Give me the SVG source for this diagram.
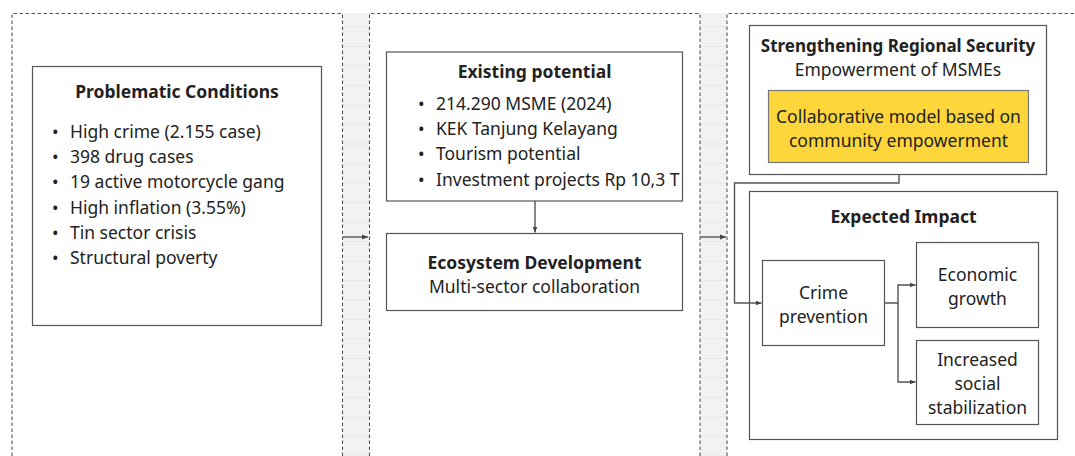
<svg xmlns="http://www.w3.org/2000/svg" width="1075" height="456" viewBox="0 0 1075 456">
<defs>
<pattern id="grid" x="0" y="7" width="30" height="78" patternUnits="userSpaceOnUse">
<rect width="30" height="78" fill="#f2f2f2"/>
<line x1="0" y1="0.5" x2="30" y2="0.5" stroke="#e8e8e8"/>
<line x1="0" y1="20" x2="30" y2="20" stroke="#e8e8e8"/>
<line x1="0" y1="39.5" x2="30" y2="39.5" stroke="#e8e8e8"/>
<line x1="0" y1="59" x2="30" y2="59" stroke="#e8e8e8"/>
</pattern>
<marker id="ah" viewBox="0 0 6 6" refX="6" refY="3" markerWidth="6" markerHeight="6" markerUnits="userSpaceOnUse" orient="auto">
<path d="M0,0.5 L6,3 L0,5.5 Z" fill="#444"/>
</marker>
</defs>
<style>
.col{fill:none;stroke:#555;stroke-width:1.1;stroke-dasharray:3.5 2.5}
.box{fill:#fff;stroke:#555;stroke-width:1.2}
.yel{fill:#fcd63b;stroke:#777;stroke-width:1.2}
text{font-family:"Noto Sans","Open Sans","DejaVu Sans",sans-serif;fill:#222;font-size:17.5px}
.b{font-weight:bold}
.c{text-anchor:middle}
.conn{fill:none;stroke:#555;stroke-width:1.4}
</style>
<rect width="1075" height="456" fill="#fff"/>
<g id="background">
<rect x="343" y="13" width="26" height="443" fill="url(#grid)"/>
<rect x="700" y="13" width="27" height="443" fill="url(#grid)"/>
<path class="col" d="M12,456 V13.5 H342.5 V456"/>
<path class="col" d="M369.5,456 V13.5 H700 V456"/>
<path class="col" d="M727,456 V13.5 H1075"/>
</g>
<g id="problematic">
<rect class="box" x="32.5" y="66.5" width="289" height="259"/>
<text class="b c" x="177" y="98">Problematic Conditions</text>
<text x="52" y="138">•</text><text x="70" y="138">High crime (2.155 case)</text>
<text x="52" y="163.2">•</text><text x="70" y="163.2">398 drug cases</text>
<text x="52" y="188.4">•</text><text x="70" y="188.4">19 active motorcycle gang</text>
<text x="52" y="213.6">•</text><text x="70" y="213.6">High inflation (3.55%)</text>
<text x="52" y="238.8">•</text><text x="70" y="238.8">Tin sector crisis</text>
<text x="52" y="264">•</text><text x="70" y="264">Structural poverty</text>
</g>
<g id="existing">
<rect class="box" x="386.5" y="52" width="296" height="149"/>
<text class="b c" x="534.5" y="78">Existing potential</text>
<text x="418" y="110">•</text><text x="436" y="110">214.290 MSME (2024)</text>
<text x="418" y="135.2">•</text><text x="436" y="135.2">KEK Tanjung Kelayang</text>
<text x="418" y="160.4">•</text><text x="436" y="160.4">Tourism potential</text>
<text x="418" y="185.6">•</text><text x="436" y="185.6">Investment projects Rp 10,3 T</text>
</g>
<g id="ecosystem">
<rect class="box" x="386.5" y="233.5" width="296" height="77"/>
<text class="b c" x="534.5" y="268.5">Ecosystem Development</text>
<text class="c" x="534.5" y="292.5">Multi-sector collaboration</text>
</g>
<g id="strengthening">
<rect class="box" x="749.5" y="25.5" width="297" height="149"/>
<text class="b c" x="898" y="51.5" style="font-size:17px">Strengthening Regional Security</text>
<text class="c" x="898" y="75.5">Empowerment of MSMEs</text>
<rect class="yel" x="768.5" y="90.5" width="260" height="72"/>
<text class="c" x="898.5" y="122.5">Collaborative model based on</text>
<text class="c" x="898.5" y="146.5">community empowerment</text>
</g>
<g id="impact">
<rect class="box" x="749.5" y="191.5" width="308" height="248"/>
<text class="b c" x="903.5" y="222.5">Expected Impact</text>
</g>
<g id="crime">
<rect class="box" x="762.5" y="260.5" width="122" height="85"/>
<text class="c" x="823.5" y="298.5">Crime</text>
<text class="c" x="823.5" y="322.5">prevention</text>
</g>
<g id="economic">
<rect class="box" x="916.5" y="242.5" width="122" height="85"/>
<text class="c" x="977.5" y="280.5">Economic</text>
<text class="c" x="977.5" y="304.5">growth</text>
</g>
<g id="social">
<rect class="box" x="916.5" y="340.5" width="122" height="84"/>
<text class="c" x="977.5" y="365.5">Increased</text>
<text class="c" x="977.5" y="389.5">social</text>
<text class="c" x="977.5" y="413.5">stabilization</text>
</g>
<g id="connectors">
<path class="conn" d="M343,237 H368" marker-end="url(#ah)"/>
<path class="conn" d="M700,237 H726" marker-end="url(#ah)"/>
<path class="conn" d="M535,201 V232.5" marker-end="url(#ah)"/>
<path class="conn" d="M899,175 V183 H734.5 V303 H761.5" marker-end="url(#ah)"/>
<path class="conn" d="M885,303 H898 V285 H915.5" marker-end="url(#ah)"/>
<path class="conn" d="M898,303 V382 H915.5" marker-end="url(#ah)"/>
</g>
</svg>
